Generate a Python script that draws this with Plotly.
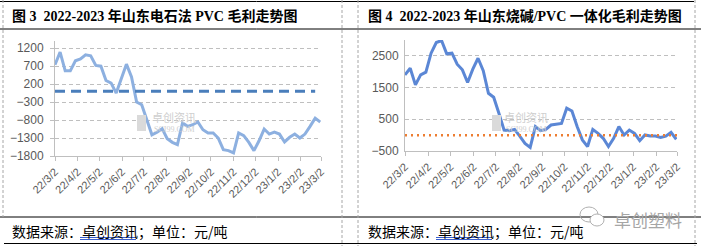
import pandas as pd
import plotly.graph_objects as go

W, H = 701, 246

# ---------------- data ----------------
dates = pd.date_range("2022-03-02", periods=53, freq="7D")

left_values = [740, 1090, 570, 570, 850, 900, 1015, 990, 720, 700,
               300, 230, -50, 385, 755, 400, -300, -375, -790, -1210,
               -1140, -1040, -1320, -1420, -1485, -880, -975, -930, -855, -1070,
               -1160, -1160, -1300, -1625, -1650, -1715, -1160, -1235, -1420, -1650,
               -1375, -1050, -1190, -1135, -1190, -1410, -1280, -1190, -1300, -1190,
               -975, -745, -855]

right_values = [1900, 2110, 1585, 1900, 1985, 2585, 2920, 2985, 2565, 2585,
                2235, 2060, 1660, 2080, 2425, 2035, 1320, 1195, 690, 160,
                140, 180, -30, -260, -385, 270, 140, 180, 320, 350,
                370, 850, 760, 270, -150, -360, 180, 55, -100, -360,
                -100, 270, 5, 160, 55, -175, 5, -30, -30, -70,
                -30, 90, -130]

base_dates_left = ["2022-03-02", "2023-02-22"]
base_values_left = [0, 0]
base_dates_right = ["2022-03-02", "2023-03-02"]
base_values_right = [0, 0]

tick_dates = ["2022-03-02", "2022-04-02", "2022-05-02", "2022-06-02", "2022-07-02",
              "2022-08-02", "2022-09-02", "2022-10-02", "2022-11-02", "2022-12-02",
              "2023-01-02", "2023-02-02", "2023-03-02"]
tick_labels = ["22/3/2", "22/4/2", "22/5/2", "22/6/2", "22/7/2", "22/8/2", "22/9/2",
               "22/10/2", "22/11/2", "22/12/2", "23/1/2", "23/2/2", "23/3/2"]

title_left = "图 3  2022-2023 年山东电石法 PVC 毛利走势图"
title_right = "图 4  2022-2023 年山东烧碱/PVC 一体化毛利走势图"
footer_text = "数据来源：卓创资讯；单位：元/吨"

# ---------------- helpers ----------------
def px(x):
    return x / W

def py(y):
    return 1 - y / H

fig = go.Figure()

fig.add_trace(go.Scatter(x=dates, y=left_values, mode="lines",
                         line=dict(color="#8DB0E0", width=3), xaxis="x", yaxis="y"))
fig.add_trace(go.Scatter(x=base_dates_left, y=base_values_left, mode="lines",
                         line=dict(color="#4A7EBB", width=3, dash="10px,6px"),
                         xaxis="x", yaxis="y"))
fig.add_trace(go.Scatter(x=dates, y=right_values, mode="lines",
                         line=dict(color="#5B87D5", width=3), xaxis="x2", yaxis="y2"))
fig.add_trace(go.Scatter(x=base_dates_right, y=base_values_right, mode="lines",
                         line=dict(color="#ED7D31", width=2.5, dash="2px,4px"),
                         xaxis="x2", yaxis="y2"))

tickfont = dict(family="Liberation Sans, Arial, sans-serif", size=11, color="#595959")
ytickfont = dict(family="Liberation Sans, Arial, sans-serif", size=12, color="#595959")

xcommon = dict(type="date", range=["2022-03-02", "2023-03-02"], tickmode="array",
               tickvals=tick_dates, ticktext=tick_labels, tickangle=-45,
               ticks="outside", ticklen=4, tickcolor="#BFBFBF", showline=True,
               linecolor="#BFBFBF", linewidth=1, showgrid=False, zeroline=False,
               tickfont=tickfont, automargin=False)
ycommon = dict(showgrid=True, gridcolor="#BFBFBF", griddash="4px,3px", gridwidth=1,
               showline=True, linecolor="#BFBFBF", linewidth=1, zeroline=False,
               tickfont=ytickfont, tickmode="linear", automargin=False)

fig.update_layout(
    width=W, height=H, margin=dict(l=0, r=0, t=0, b=0, autoexpand=False),
    paper_bgcolor="white", plot_bgcolor="white", showlegend=False,
    xaxis=dict(domain=[px(55), px(321)], anchor="y", **xcommon),
    yaxis=dict(domain=[py(156), py(41)], anchor="x", range=[-1800, 1400],
               tick0=-1800, dtick=500, ticks="outside", ticklen=4,
               tickcolor="#BFBFBF", ticklabelstandoff=4, **ycommon),
    xaxis2=dict(domain=[px(405), px(677)], anchor="y2", **xcommon),
    yaxis2=dict(domain=[py(151), py(40)], anchor="x2", range=[-500, 3000],
                tick0=-500, dtick=1000, ticks="", ticklabelstandoff=3, **ycommon),
)

annotations = []
title_font = dict(family="Liberation Serif, Noto Sans CJK SC, serif", size=14, color="black")
annotations.append(dict(text="<b>%s</b>" % title_left, x=px(10), y=py(16), xref="paper", yref="paper",
                        xanchor="left", yanchor="middle", showarrow=False, font=title_font))
annotations.append(dict(text="<b>%s</b>" % title_right, x=px(366), y=py(16), xref="paper", yref="paper",
                        xanchor="left", yanchor="middle", showarrow=False, font=title_font))
foot_font = dict(family="Noto Sans CJK SC, sans-serif", size=14, color="black")
annotations.append(dict(text=footer_text, x=px(10), y=py(231), xref="paper", yref="paper",
                        xanchor="left", yanchor="middle", showarrow=False, font=foot_font))
annotations.append(dict(text=footer_text, x=px(366), y=py(231), xref="paper", yref="paper",
                        xanchor="left", yanchor="middle", showarrow=False, font=foot_font))

# watermarks
wm_font = dict(family="Noto Sans CJK SC, sans-serif", size=11, color="#CFCFCF")
wm_font2 = dict(family="Liberation Serif, serif", size=8, color="#CFCFCF")
for (lx, tx, ty) in [(137, 150, 117), (492, 502, 117)]:
    annotations.append(dict(text="卓创资讯", x=px(tx), y=py(ty), xref="paper", yref="paper",
                            xanchor="left", yanchor="middle", showarrow=False, font=wm_font))
    annotations.append(dict(text="SCI99.COM", x=px(tx + 2), y=py(ty + 12), xref="paper", yref="paper",
                            xanchor="left", yanchor="middle", showarrow=False, font=wm_font2))
annotations.append(dict(text="卓创塑料", x=px(612), y=py(219), xref="paper", yref="paper",
                        xanchor="left", yanchor="middle", showarrow=False,
                        font=dict(family="Noto Sans CJK SC, sans-serif", size=17, color="#A6A6A6")))

shapes = []
def hline(y, x0, x1, color="black", width=1, dash="solid"):
    shapes.append(dict(type="line", xref="paper", yref="paper", x0=px(x0), x1=px(x1),
                       y0=py(y), y1=py(y), line=dict(color=color, width=width, dash=dash)))

def vline(x, y0, y1, color="#A6A6A6", width=1, dash="3px,2px"):
    shapes.append(dict(type="line", xref="paper", yref="paper", x0=px(x), x1=px(x),
                       y0=py(y0), y1=py(y1), line=dict(color=color, width=width, dash=dash)))

hline(1.5, 0, 694, width=1)
hline(29, 0, 701, width=1)
hline(217, 0, 701, width=1)
hline(243.5, 4, 697, width=1)
vline(3, 0, 217)
vline(342, 0, 246)
vline(358, 0, 246)
vline(695, 0, 246)

# hyperlink underlines
for x0, x1 in [(80, 136), (436, 492)]:
    hline(237.5, x0, x1, color="#3A5FCD", width=1)
    hline(239.5, x0, x1, color="#3A5FCD", width=1)

# watermark logo squares
for lx in [137, 492]:
    shapes.append(dict(type="rect", xref="paper", yref="paper", x0=px(lx), x1=px(lx + 9),
                       y0=py(131), y1=py(115), line=dict(width=0), fillcolor="#DADADA"))

# wechat-like icon
shapes.append(dict(type="circle", xref="paper", yref="paper", x0=px(580), x1=px(598),
                   y0=py(222), y1=py(207), line=dict(color="#B0B0B0", width=1)))
shapes.append(dict(type="circle", xref="paper", yref="paper", x0=px(590), x1=px(604),
                   y0=py(226), y1=py(214), line=dict(color="#B0B0B0", width=1),
                   fillcolor="white"))

fig.update_layout(annotations=annotations, shapes=shapes)

fig.write_html("out.html", config={"displayModeBar": False},
               post_script="document.body.style.margin='0';document.body.style.overflow='hidden';")
